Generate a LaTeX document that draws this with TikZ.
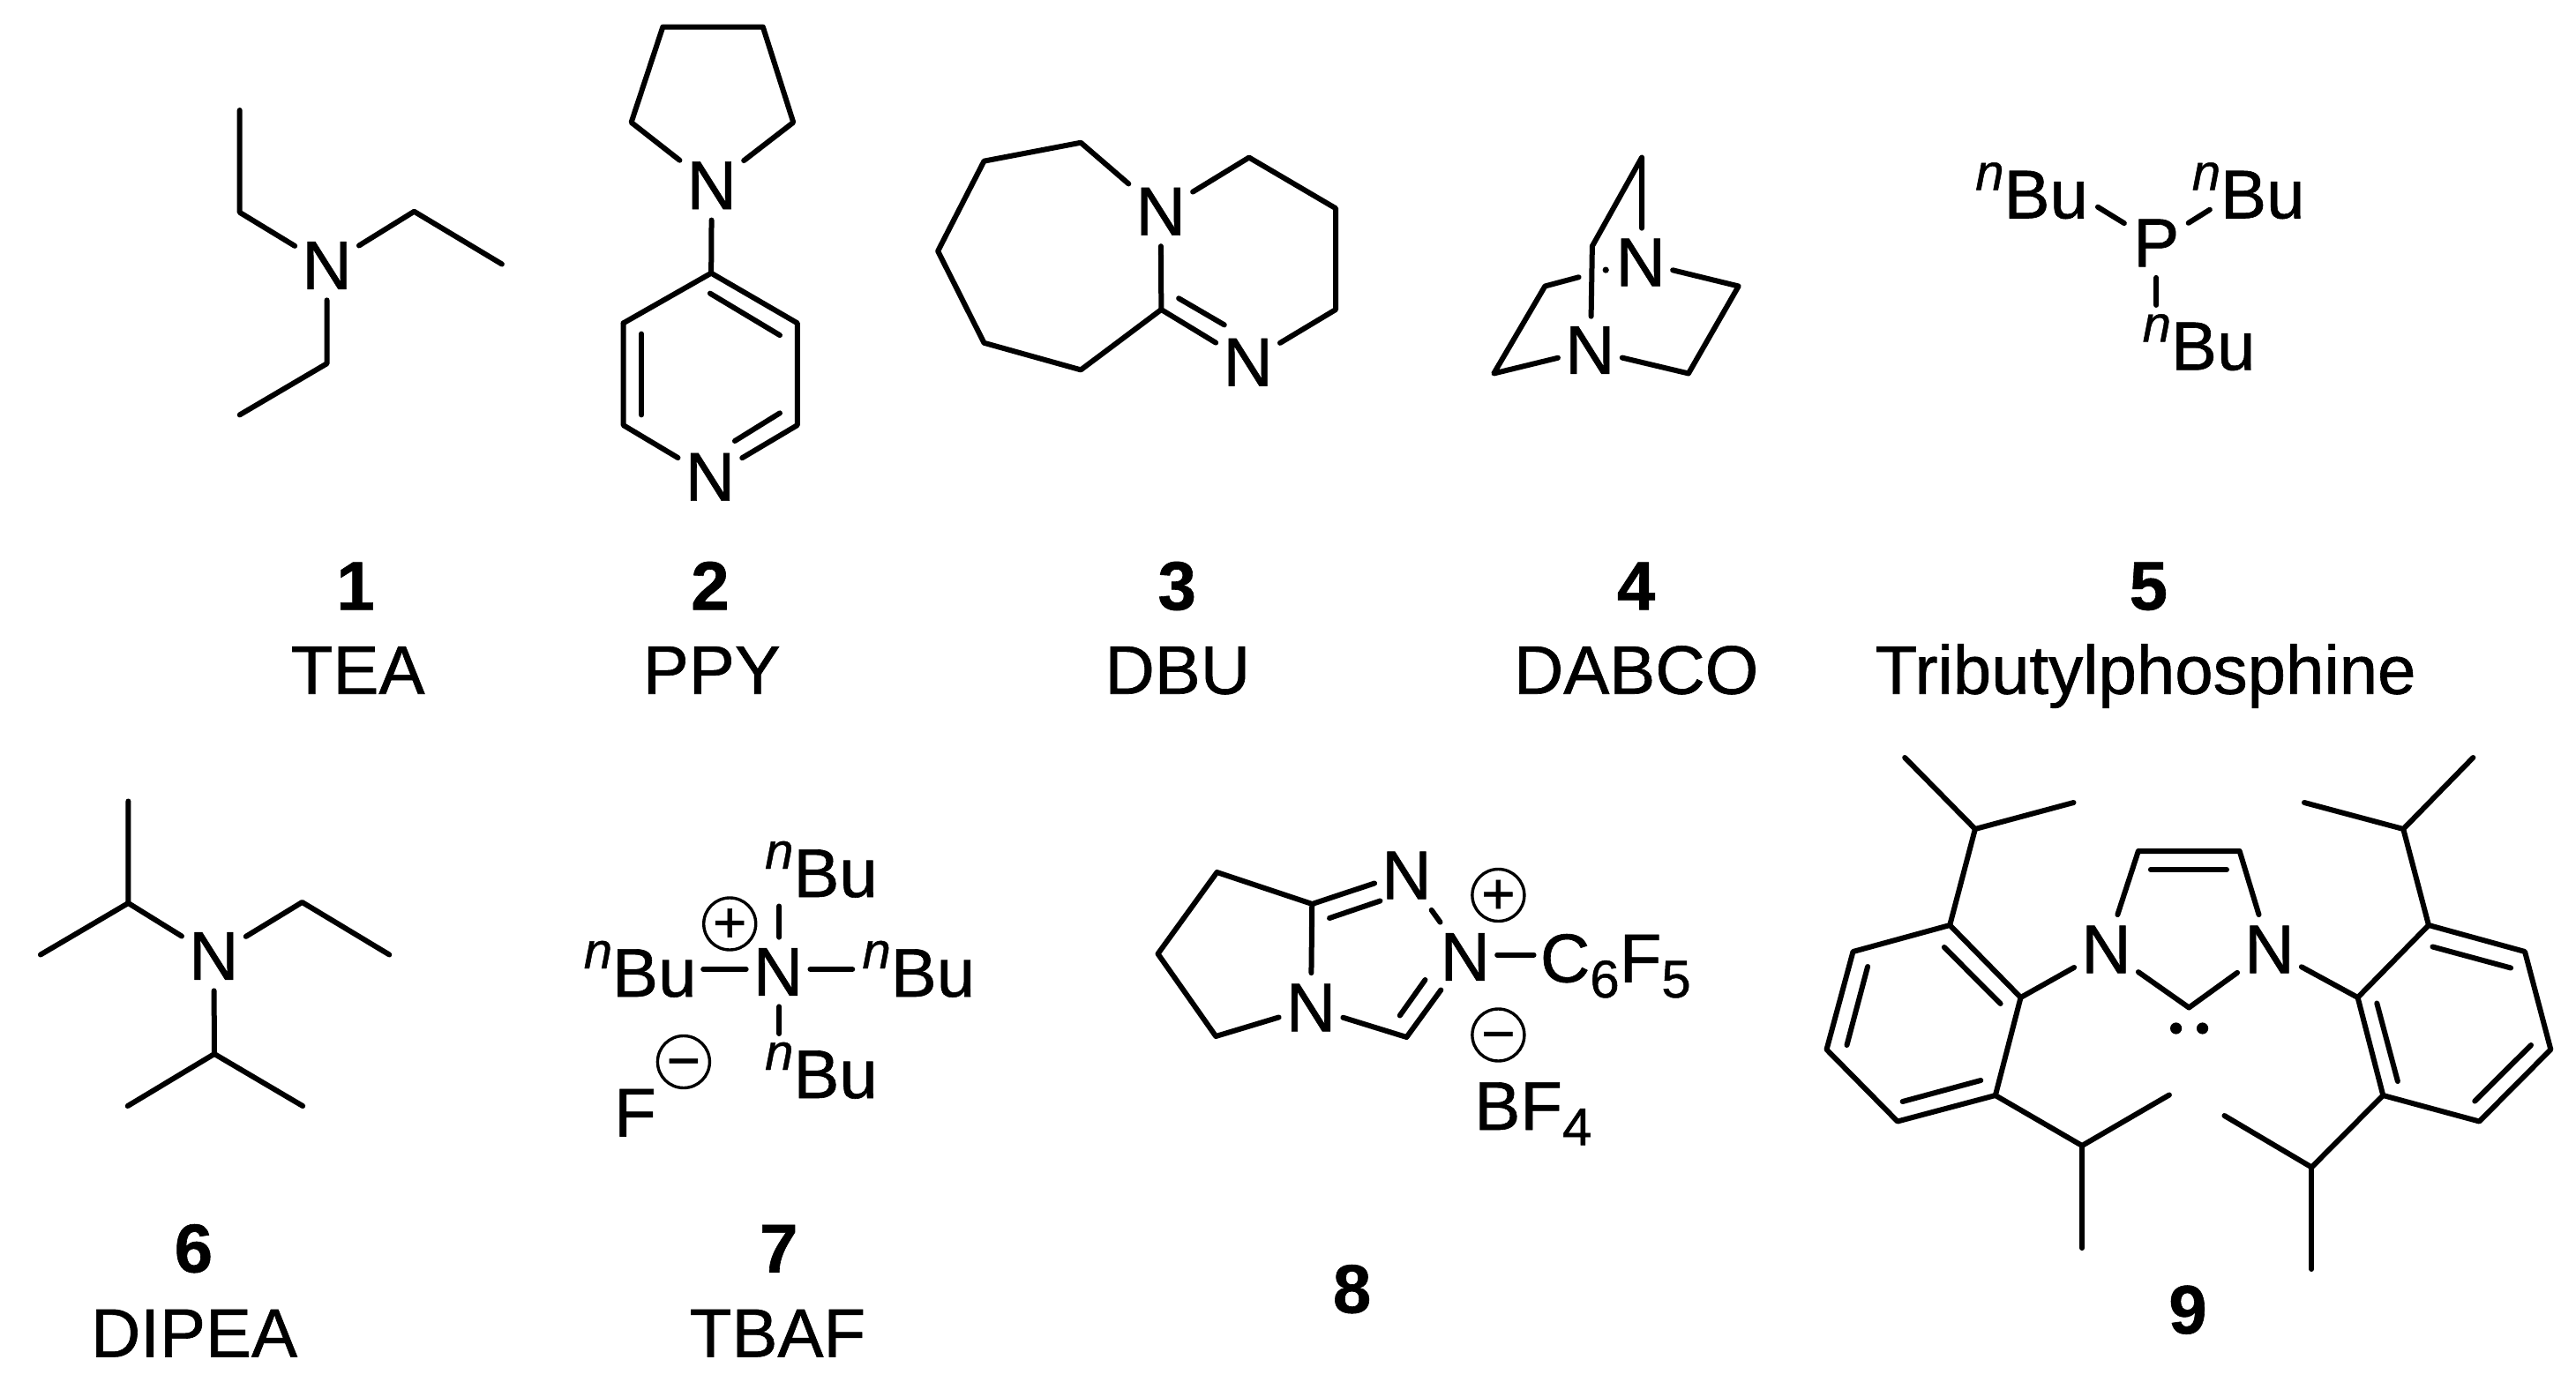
\documentclass[tikz,border=0pt]{standalone}
\usepackage{fontspec}
\setmainfont[FakeBold=0.8]{Liberation Sans}
\newcommand{\bigf}{\fontsize{39}{39}\selectfont}
\newcommand{\smallf}{\fontsize{29}{29}\selectfont}
\newcommand{\subf}{\fontsize{30}{30}\selectfont}
\newcommand{\chargef}{\fontsize{33}{33}\selectfont}
\newcommand{\nBu}{\raisebox{16pt}{\smallf\itshape n}Bu}
\newcommand{\subd}[1]{\raisebox{-8.7pt}{\subf #1}}
\tikzset{
  bond/.style={line width=3pt,line cap=round,line join=round,black},
  atom/.style={rectangle,inner sep=0pt,minimum width=36pt,minimum height=39pt,font=\bigf},
  txt/.style={inner sep=0pt,anchor=base west,font=\bigf},
  lab/.style={inner sep=0pt,anchor=base,font=\bigf},
  num/.style={inner sep=0pt,anchor=base,font=\bigf\bfseries},
  charge/.style={circle,draw,line width=1.7pt,inner sep=0pt,minimum size=29.5pt,font=\chargef,text height=21pt,text depth=0pt},
  lonepair/.style={circle,fill=black,inner sep=0pt,minimum size=6.6pt},
  pa/.style={x=0.3189pt,y=-0.2551pt},
  pb/.style={x=0.3189pt,y=-0.2551pt,xshift=500pt},
  pc/.style={x=0.3189pt,y=-0.2551pt,xshift=960pt},
  pd/.style={x=0.3189pt,y=-0.25pt,yshift=-400pt},
  pe/.style={x=0.3189pt,y=-0.25pt,xshift=500pt,yshift=-400pt},
  pf/.style={x=0.3189pt,y=-0.25pt,xshift=960pt,yshift=-400pt},
}
\begin{document}
\begin{tikzpicture}
\useasboundingbox (0,0) rectangle (1460pt,-792pt);
\fill[white] (0,0) rectangle (1460pt,-792pt);

% --- 1 TEA, 2 PPY
\begin{scope}[pa]
\node[atom] (nTEA) at (581,590) {N};
\path (426,245) coordinate (ta) (426,472) coordinate (tb) (736,470) coordinate (tc)
      (892,587) coordinate (td) (581,808) coordinate (te) (426,922) coordinate (tf);
\draw[bond] (ta) -- (tb) -- (nTEA);
\draw[bond] (nTEA) -- (tc) -- (td);
\draw[bond] (nTEA) -- (te) -- (tf);
\node[num] (n1) at (632,1355) {1};
\node[lab] (lTEA) at (636,1542) {TEA};

\node[atom] (nP1) at (1265,412) {N};
\node[atom] (nP2) at (1262,1060) {N};
\path (1122,272) coordinate (pa) (1178,60) coordinate (pb) (1356,60) coordinate (pc)
      (1410,272) coordinate (pd) (1264,607) coordinate (pe) (1417,718) coordinate (pf)
      (1417,945) coordinate (pg) (1108,945) coordinate (ph) (1108,718) coordinate (pi)
      (1262,652) coordinate (pj) (1386,745) coordinate (pk) (1140,742) coordinate (pl)
      (1140,922) coordinate (pm) (1386,918) coordinate (pn) (1306,980) coordinate (po);
\draw[bond] (nP1) -- (pa) -- (pb) -- (pc) -- (pd) -- (nP1);
\draw[bond] (nP1) -- (pe);
\draw[bond] (pi) -- (pe) -- (pf) -- (pg) -- (nP2);
\draw[bond] (nP2) -- (ph) -- (pi);
\draw[bond] (pj) -- (pk);
\draw[bond] (pl) -- (pm);
\draw[bond] (pn) -- (po);
\node[num] (n2) at (1262,1355) {2};
\node[lab] (lPPY) at (1265,1542) {PPY};
\end{scope}

% --- 3 DBU, 4 DABCO
\begin{scope}[pb]
\node[atom] (nD1) at (495,470) {N};
\node[atom] (nD2) at (650,805) {N};
\path (353,317) coordinate (da) (181,358) coordinate (db) (99,558) coordinate (dc)
      (181,762) coordinate (dd) (353,822) coordinate (de) (496,688) coordinate (df)
      (652,350) coordinate (dg) (806,463) coordinate (dh) (806,688) coordinate (di)
      (527,663) coordinate (dj) (608,722) coordinate (dk);
\draw[bond] (nD1) -- (da) -- (db) -- (dc) -- (dd) -- (de) -- (df);
\draw[bond] (nD1) -- (df) -- (nD2);
\draw[bond] (dj) -- (dk);
\draw[bond] (nD1) -- (dg) -- (dh) -- (di) -- (nD2);
\node[num] (n3) at (524,1355) {3};
\node[lab] (lDBU) at (525,1542) {DBU};

\node[atom] (nB1) at (1348,583) {N};
\node[atom] (nB2) at (1258,778) {N};
\path (1350,350) coordinate (ba) (1262,547) coordinate (bb) (1260,703) coordinate (bc)
      (1178,636) coordinate (bd) (1238,616) coordinate (be) (1087,830) coordinate (bf)
      (1522,636) coordinate (bg) (1433,830) coordinate (bh) (1350,507) coordinate (bi);
\draw[bond] (bi) -- (ba) -- (bb) -- (bc);
\draw[bond] (be) -- (bd) -- (bf) -- (nB2);
\draw[bond] (nB2) -- (bh) -- (bg) -- (nB1);
\node[circle,fill=black,inner sep=0pt,minimum size=3.6pt] (bdot) at (1286,600) {};
\node[num] (n4) at (1340,1355) {4};
\node[lab] (lDAB) at (1340,1542) {DABCO};
\end{scope}

% --- 5 tributylphosphine
\begin{scope}[pc]
\node[atom] (nPh) at (822,540) {P};
\node[txt] (bu5a) at (500,485) {\nBu};
\node[txt] (bu5b) at (885,485) {\nBu};
\node[txt] (bu5c) at (797,822) {\nBu};
\path (718,460) coordinate (qa) (917,466) coordinate (qb) (822,678) coordinate (qc);
\draw[bond] (nPh) -- (qa);
\draw[bond] (nPh) -- (qb);
\draw[bond] (nPh) -- (qc);
\node[num] (n5) at (808,1355) {5};
\node[lab] (lTri) at (803,1542) {Tributylphosphine};
\end{scope}

% --- 6 DIPEA, 7 TBAF
\begin{scope}[pd]
\node[atom] (nDI) at (380,568) {N};
\path (228,448) coordinate (ia) (228,217) coordinate (ib) (72,565) coordinate (ic)
      (537,446) coordinate (id) (692,565) coordinate (ie) (381,790) coordinate (if)
      (227,908) coordinate (ig) (538,908) coordinate (ih);
\draw[bond] (nDI) -- (ia) -- (ib);
\draw[bond] (ia) -- (ic);
\draw[bond] (nDI) -- (id) -- (ie);
\draw[bond] (nDI) -- (if) -- (ig);
\draw[bond] (if) -- (ih);
\node[num] (n6) at (344,1285) {6};
\node[lab] (lDIP) at (345,1477) {DIPEA};

\node[atom] (nTB) at (1383,604) {N};
\node[txt] (bu7a) at (1359,434) {\nBu};
\node[txt] (bu7b) at (1037,660) {\nBu};
\node[txt] (bu7c) at (1532,660) {\nBu};
\node[txt] (bu7d) at (1359,890) {\nBu};
\node[txt] (fF) at (1091,977) {F};
\node[charge] (chp7) at (1297,495) {+};
\node[charge] (chm7) at (1215,808) {−};
\path (1385,455) coordinate (ua) (1250,598) coordinate (ub) (1515,598) coordinate (uc)
      (1385,744) coordinate (ud);
\draw[bond] (nTB.north -| ua) -- (ua);
\draw[bond] (nTB.west |- ub) -- (ub);
\draw[bond] (nTB.east |- uc) -- (uc);
\draw[bond] (nTB.south -| ud) -- (ud);
\node[num] (n7) at (1384,1285) {7};
\node[lab] (lTBA) at (1382,1477) {TBAF};
\end{scope}

% --- 8 triazolium
\begin{scope}[pe]
\node[atom] (nTa) at (762,685) {N};
\node[atom] (nTb) at (932,385) {N};
\node[atom] (nTc) at (1036,570) {N};
\path (595,378) coordinate (va) (490,563) coordinate (vb) (593,750) coordinate (vc)
      (764,450) coordinate (vd) (932,752) coordinate (ve) (875,403) coordinate (vf)
      (795,482) coordinate (vg) (885,443) coordinate (vh) (993,645) coordinate (vi)
      (965,622) coordinate (vj) (920,703) coordinate (vk);
\node[txt] (cf5) at (1169,627) {C\subd{6}F\subd{5}};
\node[txt] (bf4) at (1052,962) {BF\subd{4}};
\node[charge] (chp8) at (1095,430) {+};
\node[charge] (chm8) at (1095,747) {−};
\coordinate (vl) at (1158,565);
\draw[bond] (vf) -- (vd) -- (va) -- (vb) -- (vc) -- (nTa);
\draw[bond] (nTa) -- (vd);
\draw[bond] (vg) -- (vh);
\draw[bond] (nTb) -- (nTc);
\draw[bond] (nTa) -- (ve) -- (vi);
\draw[bond] (vj) -- (vk);
\draw[bond] (nTc.east |- vl) -- (vl);
\node[num] (n8) at (835,1377) {8};
\end{scope}

% --- 9 carbene
\begin{scope}[pf]
\node[atom] (nIl) at (733,553) {N};
\node[atom] (nIr) at (1023,553) {N};
\path (790,330) coordinate (wa) (970,330) coordinate (wb) (812,372) coordinate (wc)
      (947,372) coordinate (wd) (880,685) coordinate (we)
      (581,662) coordinate (la) (455,498) coordinate (lb) (283,558) coordinate (lc)
      (236,780) coordinate (ld) (362,943) coordinate (le) (536,884) coordinate (lf)
      (445,548) coordinate (lg) (545,676) coordinate (lh) (309,592) coordinate (li)
      (272,770) coordinate (lj) (371,898) coordinate (lk) (510,850) coordinate (ll)
      (500,280) coordinate (lm) (375,118) coordinate (ln) (675,220) coordinate (lo)
      (690,998) coordinate (lp) (845,883) coordinate (lq) (690,1230) coordinate (lr)
      (1180,662) coordinate (ra) (1306,498) coordinate (rb) (1477,558) coordinate (rc)
      (1523,780) coordinate (rd) (1396,943) coordinate (re) (1225,884) coordinate (rf)
      (1313,547) coordinate (rg) (1452,595) coordinate (rh) (1488,770) coordinate (ri)
      (1388,897) coordinate (rj) (1214,675) coordinate (rk) (1251,852) coordinate (rl)
      (1261,280) coordinate (rm) (1385,118) coordinate (rn) (1085,220) coordinate (ro)
      (1098,1047) coordinate (rp) (943,930) coordinate (rq) (1098,1278) coordinate (rr);
\draw[bond] (nIl) -- (wa) -- (wb) -- (nIr);
\draw[bond] (wc) -- (wd);
\draw[bond] (nIl) -- (we) -- (nIr);
\node[lonepair] (lp1) at (857,732) {};
\node[lonepair] (lp2) at (904,732) {};
\draw[bond] (nIl) -- (la) -- (lb) -- (lc) -- (ld) -- (le) -- (lf) -- (la);
\draw[bond] (lg) -- (lh);
\draw[bond] (li) -- (lj);
\draw[bond] (lk) -- (ll);
\draw[bond] (lb) -- (lm) -- (ln);
\draw[bond] (lm) -- (lo);
\draw[bond] (lf) -- (lp) -- (lq);
\draw[bond] (lp) -- (lr);
\draw[bond] (nIr) -- (ra) -- (rb) -- (rc) -- (rd) -- (re) -- (rf) -- (ra);
\draw[bond] (rg) -- (rh);
\draw[bond] (ri) -- (rj);
\draw[bond] (rk) -- (rl);
\draw[bond] (rb) -- (rm) -- (rn);
\draw[bond] (rm) -- (ro);
\draw[bond] (rf) -- (rp) -- (rq);
\draw[bond] (rp) -- (rr);
\node[num] (n9) at (878,1424) {9};
\end{scope}
\end{tikzpicture}
\end{document}
